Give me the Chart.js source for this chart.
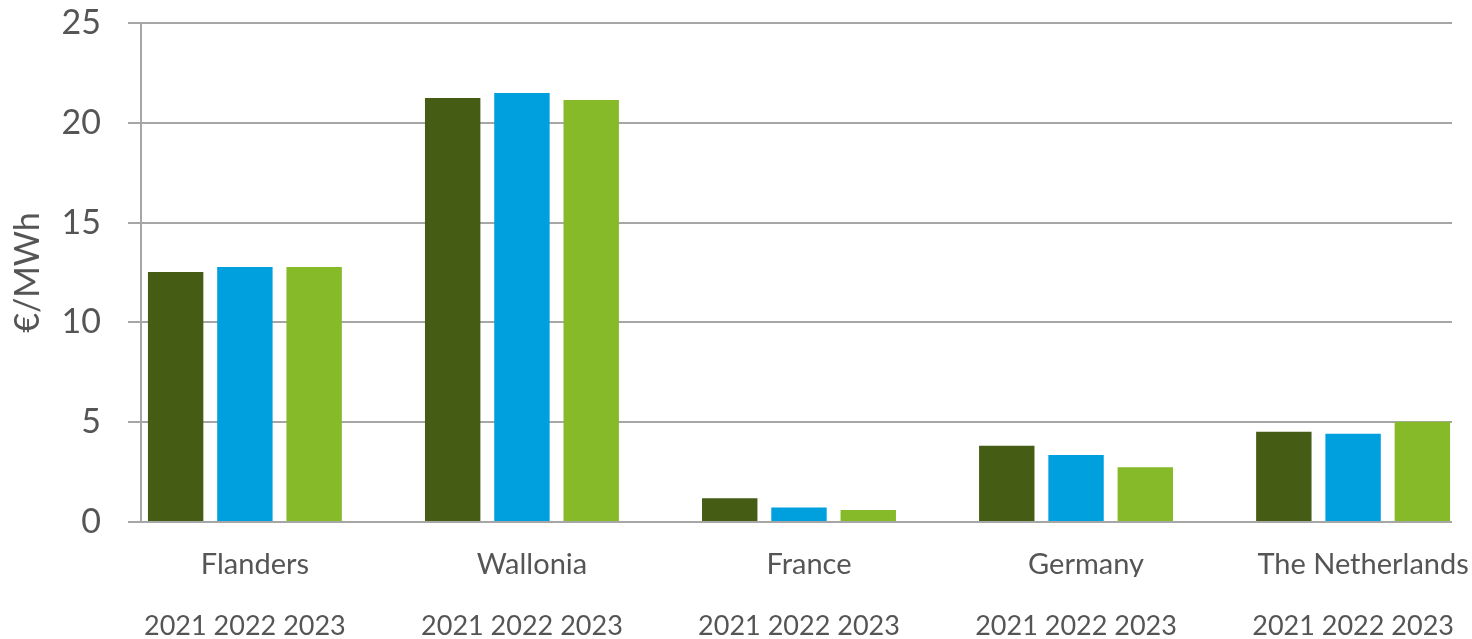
<!DOCTYPE html>
<html>
<head>
<meta charset="utf-8">
<script src="https://cdn.jsdelivr.net/npm/chart.js@4/dist/chart.umd.min.js"></script>
<style>
  html, body { margin: 0; padding: 0; background: #fff; }
</style>
</head>
<body>
<canvas id="chart" width="1472" height="639"></canvas>
<script>
// categories and series
const countries = ["Flanders", "Wallonia", "France", "Germany", "The Netherlands"];
const years = ["2021", "2022", "2023"];
const values2021 = [12.52, 21.24, 1.19, 3.82, 4.52];
const values2022 = [12.78, 21.49, 0.73, 3.36, 4.42];
const values2023 = [12.78, 21.14, 0.60, 2.74, 5.02];
const yTicks = [0, 5, 10, 15, 20, 25];
const yearLabel = years.join(" ");

const seriesColors = ["#445c14", "#00a0df", "#86ba28"];
const textColor = "#555555";
const gridColor = "#a6a6a6";
const fontFamily = "Lato, 'Open Sans', sans-serif";

// linear index scale so the groups sit where they sit in the original
const xRange = { min: -0.375, max: 4.357 };
const indexTicks = (scale) => { scale.ticks = countries.map((_, i) => ({ value: i })); };
// keep label overhang from pushing the plot area around
const noPadding = (scale) => {
    scale.paddingTop = 0;
    scale.paddingBottom = 0;
    scale.paddingLeft = 0;
    scale.paddingRight = 0;
};

const toPoints = (vals) => vals.map((v, i) => ({ x: i, y: v }));

const datasets = [values2021, values2022, values2023].map((vals, k) => ({
    label: years[k],
    data: toPoints(vals),
    backgroundColor: seriesColors[k],
    borderWidth: 0,
    categoryPercentage: 0.75,
    barPercentage: 0.8,
    xAxisID: "x",
}));

new Chart(document.getElementById("chart").getContext("2d"), {
    type: "bar",
    data: { datasets: datasets },
    options: {
        responsive: false,
        animation: false,
        devicePixelRatio: 1,
        layout: { padding: { top: 23, right: 20, left: 0, bottom: 0 } },
        plugins: {
            legend: { display: false },
            tooltip: { enabled: false },
        },
        scales: {
            x: {
                type: "linear",
                position: "bottom",
                offset: false,
                min: xRange.min,
                max: xRange.max,
                afterBuildTicks: indexTicks,
                afterFit: (scale) => { scale.height = 55; noPadding(scale); },
                grid: { display: false },
                border: { display: false },
                ticks: {
                    autoSkip: false,
                    maxRotation: 0,
                    padding: 17,
                    labelOffset: 10,
                    color: textColor,
                    font: { family: fontFamily, size: 29 },
                    callback: (value) => countries[value] ?? "",
                },
            },
            x2: {
                type: "linear",
                position: "bottom",
                offset: false,
                min: xRange.min,
                max: xRange.max,
                afterBuildTicks: indexTicks,
                afterFit: (scale) => { scale.height = 62; noPadding(scale); },
                grid: { display: false },
                border: { display: false },
                ticks: {
                    autoSkip: false,
                    maxRotation: 0,
                    padding: 25,
                    color: textColor,
                    font: { family: fontFamily, size: 27 },
                    callback: (value) => (countries[value] !== undefined ? yearLabel : ""),
                },
            },
            y: {
                min: yTicks[0],
                max: yTicks[yTicks.length - 1],
                afterBuildTicks: (scale) => { scale.ticks = yTicks.map((v) => ({ value: v })); },
                afterFit: (scale) => { scale.width = 141; noPadding(scale); },
                grid: {
                    color: gridColor,
                    lineWidth: 2,
                    tickLength: 13,
                    drawTicks: true,
                },
                border: { display: true, color: gridColor, width: 2 },
                ticks: {
                    padding: 27,
                    color: textColor,
                    font: { family: fontFamily, size: 34, lineHeight: 1.1 },
                },
                title: {
                    display: true,
                    text: "€/MWh",
                    color: textColor,
                    padding: { top: 8, bottom: 0 },
                    font: { family: fontFamily, size: 34 },
                },
            },
        },
    },
});
</script>
</body>
</html>
